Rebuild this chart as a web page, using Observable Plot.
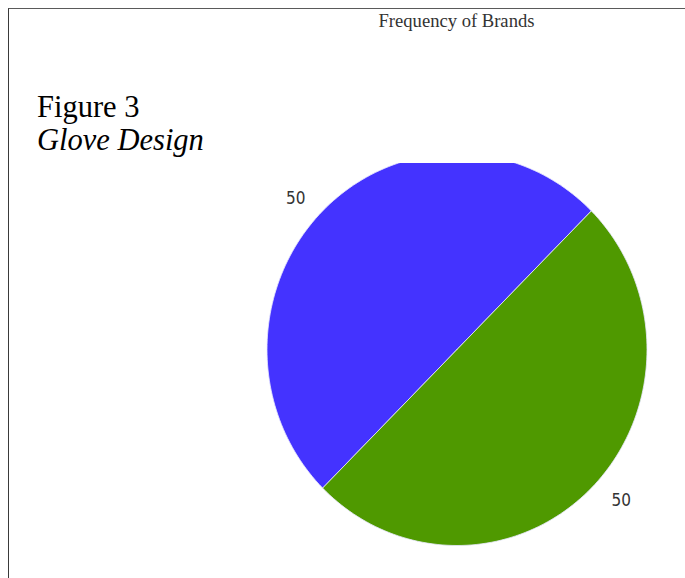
<!DOCTYPE html>
<html>
<head>
<meta charset="utf-8">
<script src="https://cdn.jsdelivr.net/npm/d3@7"></script>
<script src="https://cdn.jsdelivr.net/npm/@observablehq/plot@0.6"></script>
<style>
  html, body { margin: 0; padding: 0; background: #fff; }
  body { width: 685px; height: 578px; position: relative; overflow: hidden; }
  #frame { position: absolute; left: 8px; top: 8px; right: -5px; bottom: -5px;
           border-top: 1.5px solid #5a5a5a; border-left: 1.5px solid #3a3a3a; }
  #title { position: absolute; left: 0; width: 913px; top: 10px; text-align: center;
           font-family: "Liberation Serif", "DejaVu Serif", serif; font-size: 18.6px; color: #333; }
  #fig { position: absolute; left: 37px; top: 91px; font-family: "Liberation Serif", serif;
         font-size: 30.5px; line-height: 33px; color: #000; }
  #fig i { font-style: italic; }
  #chart { position: absolute; left: 0; top: 163px; }
</style>
</head>
<body>
<div id="frame"></div>
<div id="title">Frequency of Brands</div>
<div id="fig"><div>Figure 3</div><div><i>Glove Design</i></div></div>
<div id="chart"></div>
<script>
const brands = ["Brand A", "Brand B"];
const counts = [50, 50];
const colors = ["#4433ff", "#4f9900"];
const labels = ["50", "50"];

const pie = d3.pie().sort(null).startAngle(-3 * Math.PI / 4).endAngle(5 * Math.PI / 4);
const arcs = pie(counts);

const polys = [];
arcs.forEach((a, i) => {
  const n = 120;
  polys.push({name: brands[i], x: 0, y: 0});
  for (let k = 0; k <= n; k++) {
    const t = a.startAngle + (a.endAngle - a.startAngle) * k / n;
    polys.push({name: brands[i], x: Math.sin(t), y: Math.cos(t)});
  }
  polys.push({name: brands[i], x: 0, y: 0});
});

const labelData = arcs.map((a, i) => {
  const m = (a.startAngle + a.endAngle) / 2;
  const x = Math.sin(m) * 1.09, y = Math.cos(m) * 1.09;
  return {x, y, text: labels[i], anchor: x < 0 ? "end" : "start"};
});

const font = "'Liberation Sans Narrow', 'DejaVu Sans Condensed', sans-serif";
const chart = Plot.plot({
  width: 685,
  height: 415,
  margin: 0,
  x: {domain: [-1, 1], range: [266.5, 646.5], axis: null},
  y: {domain: [-1, 1], range: [382, -10], axis: null},
  color: {domain: brands, range: colors},
  style: {overflow: "hidden", background: "transparent"},
  marks: [
    Plot.line(polys, {x: "x", y: "y", z: "name", fill: "name", stroke: "#e8e8ff", strokeWidth: 1, strokeOpacity: 0.8}),
    Plot.text(labelData.filter(d => d.anchor === "end"), {x: "x", y: "y", text: "text", textAnchor: "end", dx: -5,
      fontSize: 17, fill: "#333", fontFamily: font}),
    Plot.text(labelData.filter(d => d.anchor === "start"), {x: "x", y: "y", text: "text", textAnchor: "start", dx: 8,
      fontSize: 17, fill: "#333", fontFamily: font})
  ]
});
document.getElementById("chart").appendChild(chart);
</script>
</body>
</html>
